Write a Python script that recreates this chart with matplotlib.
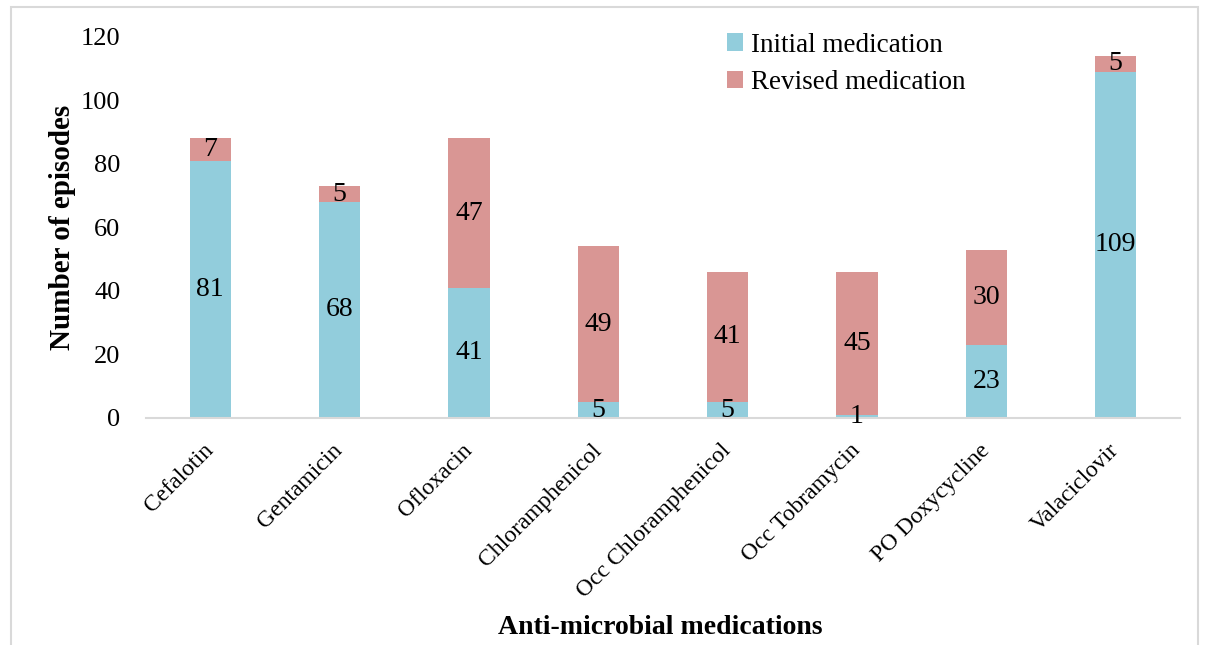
import numpy as np
import matplotlib.pyplot as plt
from matplotlib.patches import Rectangle

plt.rcParams['font.family'] = ['Liberation Serif', 'DejaVu Serif']

# donnees du graphique
medications = ['Cefalotin', 'Gentamicin', 'Ofloxacin', 'Chloramphenicol',
               'Occ Chloramphenicol', 'Occ Tobramycin', 'PO Doxycycline', 'Valaciclovir']
initial = [81, 68, 41, 5, 5, 1, 23, 109]
revised = [7, 5, 47, 49, 41, 45, 30, 5]

fig = plt.figure(figsize=(12.13, 6.45), dpi=100)
ax = fig.add_axes([0.12, 0.352, 0.853, 0.591])

x = np.arange(len(medications))
b1 = ax.bar(x, initial, width=0.32, color='#92CDDC', label='Initial medication')
b2 = ax.bar(x, revised, width=0.32, bottom=initial, color='#D99694', label='Revised medication')

ax.bar_label(b1, label_type='center', fontsize=20)
ax.bar_label(b2, label_type='center', fontsize=20)

ax.set_xlim(-0.5, len(medications) - 0.5)
ax.set_ylim(0, 120)
ax.set_yticks(range(0, 121, 20))
ax.tick_params(axis='y', length=0, labelsize=19, pad=18)
ax.tick_params(axis='x', length=0, pad=21)
ax.set_xticks(x)
ax.set_xticklabels(medications, rotation=45, ha='right', va='center',
                   rotation_mode='anchor', fontsize=17)

for s in ['top', 'right', 'left']:
    ax.spines[s].set_visible(False)
ax.spines['bottom'].set_color('#D9D9D9')
ax.spines['bottom'].set_linewidth(1.5)

ax.set_ylabel('Number of episodes', fontsize=21, fontweight='bold')
ax.yaxis.set_label_coords(-0.067, 0.5)
fig.text(660 / 1213, 1 - 628 / 645, 'Anti-microbial medications', fontsize=20,
         fontweight='bold', ha='center', va='center')

ax.legend(loc='upper left', bbox_to_anchor=(0.538, 1.075), frameon=False, fontsize=19.5,
          handlelength=0.6, handleheight=0.6, handletextpad=0.3, labelspacing=0.45)

# cadre autour de la figure
fig.patches.append(Rectangle((11 / 1213, -0.1), (1198 - 11) / 1213, 1.1 - 7 / 645,
                             transform=fig.transFigure, fill=False,
                             edgecolor='#D9D9D9', linewidth=1.5))

fig.savefig('out.png', dpi=100)
